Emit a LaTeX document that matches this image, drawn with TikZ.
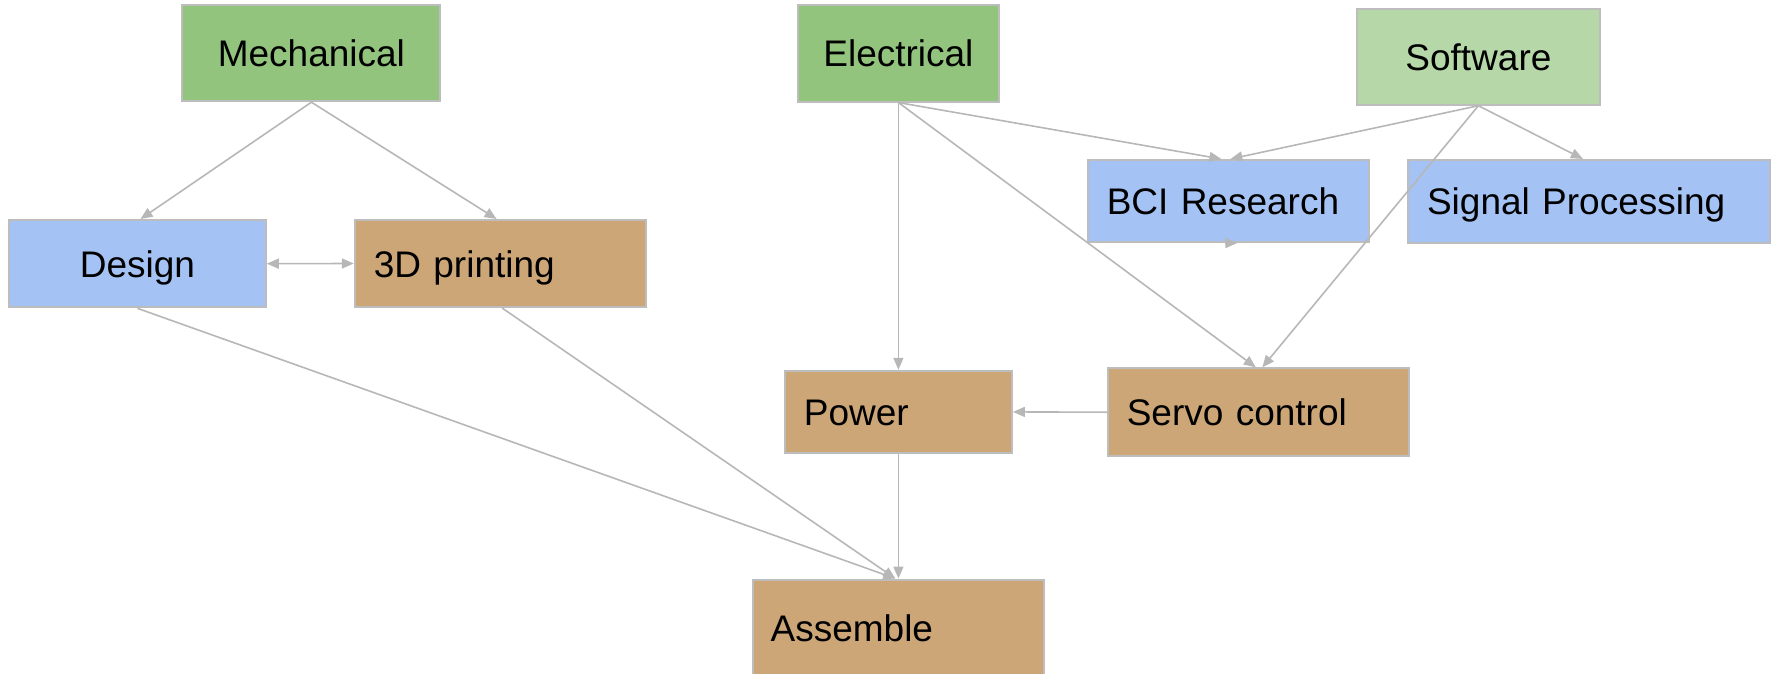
\documentclass[tikz,border=0pt]{standalone}
\usepackage{fontspec}
\setmainfont{Liberation Sans}
\usetikzlibrary{arrows.meta,calc}
\definecolor{gA}{HTML}{93C47D}
\definecolor{gB}{HTML}{B6D7A8}
\definecolor{bl}{HTML}{A4C2F4}
\definecolor{tn}{HTML}{CCA677}
\definecolor{bd}{HTML}{BDBDBD}
\definecolor{ln}{HTML}{B7B7B7}
\tikzset{
  box/.style={draw=bd, line width=2pt, inner sep=0pt, text height=27pt, text depth=0pt, font=\fontsize{37}{44}\selectfont, text=black},
  cbox/.style={box, align=center},
  lbox/.style={box, align=left, inner xsep=19pt},
  conn/.style={draw=ln, line width=1.6pt, -{Triangle[length=12pt,width=10pt]}},
  bconn/.style={draw=ln, line width=1.6pt, {Triangle[length=12pt,width=10pt]}-{Triangle[length=12pt,width=10pt]}}
}
\begin{document}
\begin{tikzpicture}[x=1pt,y=-1pt]
\useasboundingbox (0,0) rectangle (1777,674);
% nodes
\node[cbox, fill=gA, minimum width=258pt, minimum height=96pt] (mech) at (311.4,53.2) {Mechanical};
\node[cbox, fill=bl, minimum width=256.6pt, minimum height=87.3pt] (design) at (137.5,263.7) {Design};
\node[lbox, fill=tn, minimum height=87pt, text width=253.6pt] (print) at (500.6,263.5) {3D printing};
\node[cbox, fill=gA, minimum width=200.7pt, minimum height=96.5pt] (elec) at (898.4,53.3) {Electrical};
\node[cbox, fill=gB, minimum width=242.7pt, minimum height=96pt] (soft) at (1478.4,56.7) {Software};
\node[lbox, fill=bl, minimum height=82pt, text width=243.3pt] (bci) at (1228.4,201) {BCI Research};
\node[lbox, fill=bl, minimum height=82.7pt, text width=323.7pt] (sig) at (1588.9,201.3) {Signal Processing};
\node[lbox, fill=tn, minimum height=82.3pt, text width=189pt] (power) at (898.4,411.9) {Power};
\node[lbox, fill=tn, minimum height=87.7pt, text width=263pt] (servo) at (1258.3,412.2) {Servo control};
\node[lbox, fill=tn, minimum height=97pt, text width=255.4pt, inner xsep=18pt] (asm) at (898.3,628) {Assemble};
% connectors
\draw[conn] (mech.south) -- ($(design.north)+(3,0)$);
\draw[conn] (mech.south) -- ($(print.north)+(-4,0)$);
\draw[bconn] (design.east) -- (print.west);
\draw[conn] (design.south) -- ($(asm.north)+(-3,0)$);
\draw[conn] ($(print.south)+(1.5,0)$) -- ($(asm.north)+(-3,0)$);
\draw[conn] (power.south) -- (power.south |- asm.north);
\draw[conn] (elec.south) -- (elec.south |- power.north);
\draw[conn] (elec.south) -- ($(bci.north)+(-7,0)$);
\draw[conn] (soft.south) -- ($(bci.north)+(2,0)$);
\draw[conn] (soft.south) -- ($(sig.north)+(-6,0)$);
\draw[conn] (elec.south) -- ($(servo.north)+(-2.5,0)$);
\draw[conn] (soft.south) -- ($(servo.north)+(4,0)$);
\draw[conn] (servo.west) -- (power.east);
\coordinate (artA) at ($(bci.south)+(-3,0)$);
\coordinate (artB) at ($(bci.south)+(9,0)$);
\draw[conn] (artA) -- (artB);
\end{tikzpicture}
\end{document}
